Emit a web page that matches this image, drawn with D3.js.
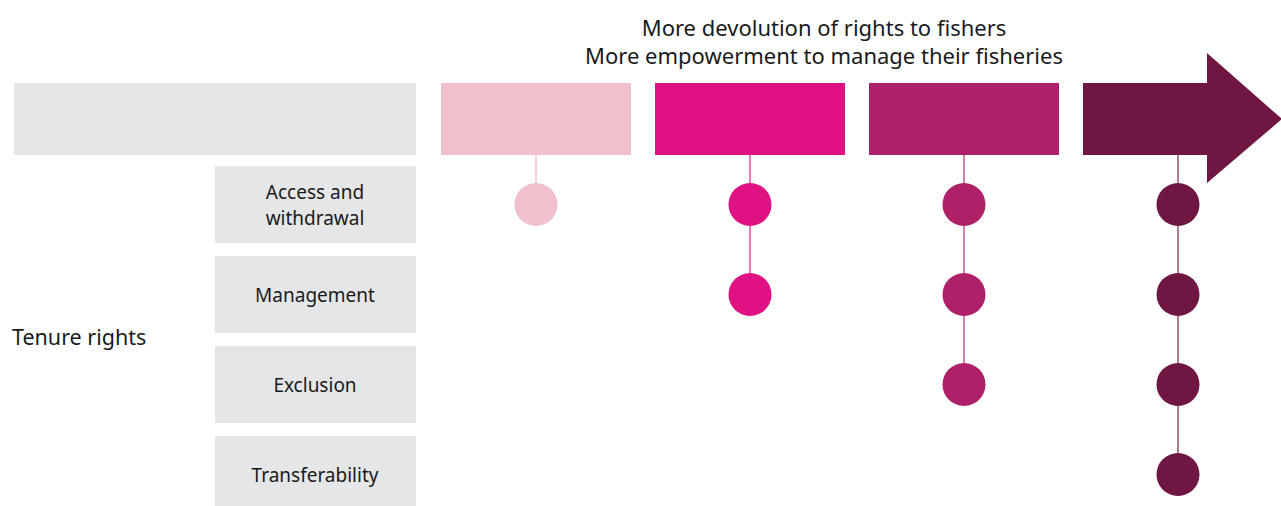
<!DOCTYPE html>
<html>
<head>
<meta charset="utf-8">
<script src="https://cdn.jsdelivr.net/npm/d3@7"></script>
<style>
  body { margin: 0; background: #fff; }
  text { font-family: "Noto Sans", "Open Sans", sans-serif; fill: #1a1a1a; }
</style>
</head>
<body>
<svg id="chart" width="1281" height="506"></svg>
<script>
// levels of devolution, left to right
var levels = ["L1", "L2", "L3", "L4"];
var levelColors = ["#f0c0cc", "#e01283", "#ae2068", "#701643"];
// how many rights each level includes (counted from the top row)
var rightsCount = [1, 2, 3, 4];
var rights = [["Access and", "withdrawal"], ["Management"], ["Exclusion"], ["Transferability"]];
var titleLines = ["More devolution of rights to fishers", "More empowerment to manage their fisheries"];
var sideLabel = "Tenure rights";

var svg = d3.select("#chart");

var x = d3.scaleBand()
          .domain(levels)
          .range([441, 1273])
          .paddingInner(24 / 214);

var y = d3.scaleBand()
          .domain(rights.map(function(d, i) { return i; }))
          .range([166, 513])
          .paddingInner(13 / 90);

var headTop = 83, headBottom = 155;

// title
svg.selectAll("text.title")
   .data(titleLines)
   .enter()
   .append("text")
   .attr("class", "title")
   .attr("x", 824)
   .attr("y", function(d, i) { return 36 + i * 28; })
   .attr("text-anchor", "middle")
   .style("font-size", "22px")
   .text(function(d) { return d; });

// grey header block
svg.append("rect")
   .attr("x", 14).attr("y", headTop)
   .attr("width", 402).attr("height", headBottom - headTop)
   .attr("fill", "#e5e6e8");

// coloured level blocks, the last one is an arrow
levels.forEach(function(lv, i) {
  var x0 = x(lv), w = x.bandwidth();
  if (i < levels.length - 1) {
    svg.append("rect")
       .attr("x", x0).attr("y", headTop)
       .attr("width", w).attr("height", headBottom - headTop)
       .attr("fill", levelColors[i]);
  } else {
    var neck = x0 + 124, tip = x0 + 199, mid = (headTop + headBottom) / 2;
    var pts = [[x0, headTop], [neck, headTop], [neck, 53], [tip, mid],
               [neck, 183], [neck, headBottom], [x0, headBottom]];
    svg.append("path")
       .attr("d", d3.line()(pts) + "Z")
       .attr("fill", levelColors[i]);
  }
});

// right label boxes
var rowG = svg.selectAll("g.row")
              .data(rights)
              .enter()
              .append("g")
              .attr("class", "row");

rowG.append("rect")
    .attr("x", 215)
    .attr("y", function(d, i) { return y(i); })
    .attr("width", 201)
    .attr("height", y.bandwidth())
    .attr("fill", "#e5e6e8");

rowG.each(function(d, i) {
  var cy = y(i) + y.bandwidth() / 2;
  var t = d3.select(this).append("text")
            .attr("x", 315)
            .attr("text-anchor", "middle")
            .style("font-size", "19px");
  d.forEach(function(line, j) {
    t.append("tspan")
     .attr("x", 315)
     .attr("y", cy + 7 + (j - (d.length - 1) / 2) * 26)
     .text(line);
  });
});

svg.append("text")
   .attr("x", 12)
   .attr("y", 345)
   .style("font-size", "21.5px")
   .text(sideLabel);

// stems and dots
levels.forEach(function(lv, i) {
  var cx = x(lv) + x.bandwidth() / 2;
  var n = rightsCount[i];
  var lastY = y(n - 1) + y.bandwidth() / 2;
  svg.append("line")
     .attr("x1", cx).attr("x2", cx)
     .attr("y1", headBottom).attr("y2", lastY)
     .attr("stroke", levelColors[i])
     .attr("stroke-width", 1.5)
     .attr("opacity", i === 0 ? 1 : 0.75);
  svg.selectAll("circle.c" + i)
     .data(d3.range(n))
     .enter()
     .append("circle")
     .attr("class", "c" + i)
     .attr("cx", cx)
     .attr("cy", function(r) { return y(r) + y.bandwidth() / 2; })
     .attr("r", 21.5)
     .attr("fill", levelColors[i]);
});
</script>
</body>
</html>
